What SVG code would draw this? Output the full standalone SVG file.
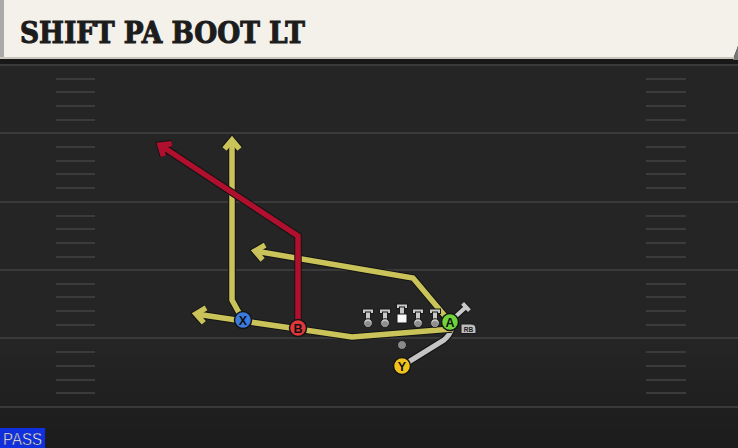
<svg xmlns="http://www.w3.org/2000/svg" width="738" height="448" viewBox="0 0 738 448">
<style>
.yl{stroke:#3a3a3a;stroke-width:2}
.hm{stroke:#3b3b3b;stroke-width:2}
.ol{fill:none;stroke:#141414;stroke-width:7.5;stroke-linejoin:miter}
.ry{fill:none;stroke:#c9c35a;stroke-width:5.5;stroke-linejoin:miter}
.rr{fill:none;stroke:#b0102e;stroke-width:5.5;stroke-linejoin:miter}
.rg{fill:none;stroke:#c4c4c4;stroke-width:5;stroke-linejoin:round;stroke-linecap:round}
.pc{stroke:#151515;stroke-width:1.5}
.pl{font-family:"Liberation Sans",Arial,sans-serif;font-weight:bold;font-size:12.5px;fill:#111;text-anchor:middle}
.og{fill:#c9c9c9;stroke:#1a1a1a;stroke-width:1}
</style>
<defs>
<marker id="mo" markerUnits="userSpaceOnUse" markerWidth="40" markerHeight="40" viewBox="-20 -20 40 40" refX="0" refY="0" orient="auto" overflow="visible">
<path d="M-9,-7.5 L0,0 L-9,7.5" fill="none" stroke="#141414" stroke-width="7.5"/>
</marker>
<marker id="my" markerUnits="userSpaceOnUse" markerWidth="40" markerHeight="40" viewBox="-20 -20 40 40" refX="0" refY="0" orient="auto" overflow="visible">
<path d="M-9,-7.5 L0,0 L-9,7.5" fill="none" stroke="#c9c35a" stroke-width="5.5"/>
</marker>
<marker id="mr" markerUnits="userSpaceOnUse" markerWidth="40" markerHeight="40" viewBox="-20 -20 40 40" refX="0" refY="0" orient="auto" overflow="visible">
<path d="M-9,-7.5 L0,0 L-9,7.5" fill="none" stroke="#b0102e" stroke-width="5.5"/>
</marker>
<linearGradient id="fade" x1="0" y1="0" x2="0" y2="1">
<stop offset="0" stop-color="#000" stop-opacity="0"/>
<stop offset="1" stop-color="#000" stop-opacity="0.25"/>
</linearGradient>
<g id="lin">
<rect x="-5.5" y="-2" width="11" height="4.5" class="og"/>
<rect x="-2.5" y="1" width="5" height="11" class="og"/>
<circle cx="0" cy="12" r="4.3" fill="#c9c9c9" stroke="#1a1a1a" stroke-width="1"/>
<circle cx="0" cy="13" r="3" fill="#8e8e8e"/>
</g>
</defs>

<!-- field -->
<rect x="0" y="0" width="738" height="448" fill="#252525"/>
<rect x="0" y="338" width="738" height="110" fill="url(#fade)"/>
<g id="yardlines">
<line class="yl" x1="0" y1="65" x2="738" y2="65"/>
<line class="yl" x1="0" y1="133" x2="738" y2="133"/>
<line class="yl" x1="0" y1="202" x2="738" y2="202"/>
<line class="yl" x1="0" y1="270" x2="738" y2="270"/>
<line class="yl" x1="0" y1="338" x2="738" y2="338"/>
<line class="yl" x1="0" y1="407" x2="738" y2="407"/>
</g>
<g id="hashes">
<path class="hm" d="M56,79H95M56,92H95M56,106H95M56,120H95M56,147H95M56,161H95M56,174H95M56,188H95M56,216H95M56,229H95M56,243H95M56,257H95M56,284H95M56,297H95M56,311H95M56,325H95M56,352H95M56,366H95M56,380H95M56,393H95"/>
<path class="hm" d="M646,79H686M646,92H686M646,106H686M646,120H686M646,147H686M646,161H686M646,174H686M646,188H686M646,216H686M646,229H686M646,243H686M646,257H686M646,284H686M646,297H686M646,311H686M646,325H686M646,352H686M646,366H686M646,380H686M646,393H686"/>
</g>

<!-- header -->
<g id="header">
<rect x="0" y="59" width="738" height="5" fill="#181818"/>
<polygon points="0,0 738,0 738,46 733,59 0,59" fill="#f4f1ea"/>
<polygon points="738,46 738,60 733,60" fill="#777"/>
<rect x="0" y="0" width="4" height="59" fill="#aaa"/>
<rect x="0" y="57" width="734" height="2" fill="#c9c6bf"/>
<text x="20" y="43" textLength="285" lengthAdjust="spacingAndGlyphs" font-family="'DejaVu Serif','Liberation Serif',serif" font-weight="bold" font-size="29" fill="#1c1c1c" stroke="#1c1c1c" stroke-width="1.1">SHIFT PA BOOT LT</text>
</g>

<!-- connectors -->
<g id="connectors">
<path class="ol" d="M402,366 L444,340 Q450,335 452,328" stroke-linejoin="round"/>
<path class="rg" d="M402,366 L444,340 Q450,335 452,328"/>

<path class="ol" d="M452,329 L352,337 L298,329 L243,321 L196,314" marker-end="url(#mo)"/>
<path class="ry" d="M452,329 L352,337 L298,329 L243,321 L196,314" marker-end="url(#my)"/>

<path class="ol" d="M450,322 L413,278 L255,251" marker-end="url(#mo)"/>
<path class="ry" d="M450,322 L413,278 L255,251" marker-end="url(#my)"/>

<path class="ol" d="M243,320 L232,300 L232,140" marker-end="url(#mo)"/>
<path class="ry" d="M243,320 L232,300 L232,140" marker-end="url(#my)"/>

<path class="ol" d="M298,328 L298,236 L160,145" marker-end="url(#mo)"/>
<path class="rr" d="M298,328 L298,236 L160,145" marker-end="url(#mr)"/>

<!-- A block -->
<path d="M455,317 L466,307 M462.6,303.3 L469.4,310.7" fill="none" stroke="#141414" stroke-width="6"/>
<path d="M455,317 L466,307 M462.6,303.3 L469.4,310.7" fill="none" stroke="#c9c9c9" stroke-width="4"/>
</g>

<!-- offensive line -->
<g id="oline">
<use href="#lin" x="368" y="311"/>
<use href="#lin" x="385" y="311"/>
<use href="#lin" x="418" y="311"/>
<use href="#lin" x="435" y="311"/>
<g id="center">
<rect x="396.5" y="304" width="11" height="4.5" class="og"/>
<rect x="399.5" y="307" width="5" height="8" class="og"/>
<rect x="397" y="314" width="10" height="9" fill="#fafafa" stroke="#1a1a1a" stroke-width="1"/>
</g>
</g>

<g id="dot"><circle cx="402" cy="345" r="4.5" fill="#8a8a8a" stroke="#1a1a1a" stroke-width="1"/></g>

<g id="nodeX"><circle class="pc" cx="243" cy="320" r="8.5" fill="#3b7be0"/><text class="pl" x="243" y="324.5">X</text></g>
<g id="nodeB"><circle class="pc" cx="298" cy="328" r="8.5" fill="#e2383c"/><text class="pl" x="298" y="332.5">B</text></g>
<g id="nodeA"><circle class="pc" cx="450" cy="322" r="8.5" fill="#6fd43a"/><text class="pl" x="450" y="326.5">A</text></g>
<g id="nodeY"><circle class="pc" cx="402" cy="366" r="8.5" fill="#f2c21c"/><text class="pl" x="402" y="370.5">Y</text></g>
<g id="rbtag">
<path d="M461,324 H471 Q476,324 476,329 V333.5 H461 Z" fill="#bdbdbd" stroke="#1a1a1a" stroke-width="1"/>
<text x="468.5" y="331.5" font-family="'Liberation Sans',Arial,sans-serif" font-size="6.5" font-weight="bold" fill="#222" text-anchor="middle">RB</text>
</g>

<g id="pass">
<rect x="0" y="428" width="45" height="20" fill="#1030e0"/>
<text x="3" y="445" textLength="39" lengthAdjust="spacingAndGlyphs" font-family="'Liberation Sans',Arial,sans-serif" font-size="16.5" fill="#fff" stroke="#0a1a80" stroke-width="0.5">PASS</text>
</g>
</svg>
